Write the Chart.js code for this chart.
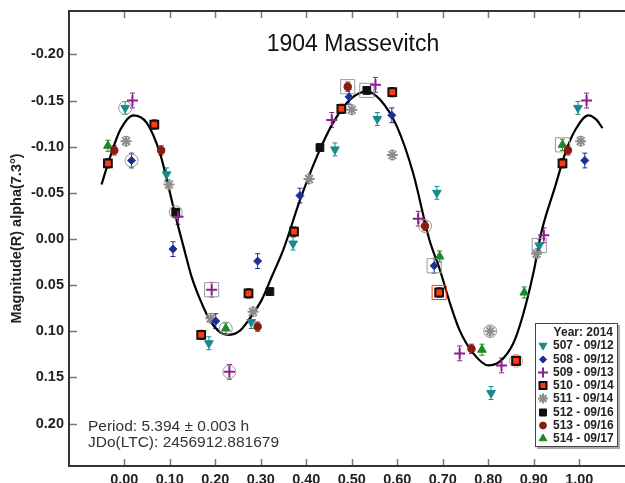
<!DOCTYPE html>
<html>
<head>
<meta charset="utf-8">
<script src="https://cdn.jsdelivr.net/npm/chart.js@4.4.1/dist/chart.umd.min.js"></script>
<style>
    html, body { margin: 0; padding: 0; background: #fff; }
    #wrap { position: relative; width: 625px; height: 483px; font-family: "Liberation Sans", Arial, sans-serif; }
    #chart { position: absolute; left: 0; top: 0; }
    .title { position: absolute; left: 233px; top: 30px; width: 240px; text-align: center; font-size: 23px; color: #111; }
    .note { position: absolute; left: 88px; top: 418px; font-size: 15.5px; line-height: 15.8px; color: #333; }
    .legend { position: absolute; left: 535px; top: 323px; width: 83px; height: 124px; border: 1px solid #444;
              background: #fff; box-shadow: 2px 2px 0 #aaa; padding-top: 2px; box-sizing: border-box; }
    .legend .row { height: 13.3px; line-height: 13.3px; font-size: 12px; font-weight: bold; color: #222; white-space: nowrap; position: relative; }
    .legend .head { text-align: right; padding-right: 4px; }
    .legend canvas { position: absolute; left: 0px; top: 0px; }
    .legend .txt { position: absolute; left: 17px; }
</style>
</head>
<body>
<div id="wrap">
    <canvas id="chart" width="625" height="483"></canvas>
    <div class="title">1904 Massevitch</div>
    <div class="note">Period: 5.394 ± 0.003 h<br>JDo(LTC): 2456912.881679</div>
    <div class="legend" id="legend"></div>
</div>
<script>
// ---- data ----
const xTicks = [0.0, 0.1, 0.2, 0.3, 0.4, 0.5, 0.6, 0.7, 0.8, 0.9, 1.0];
const yTicks = [-0.20, -0.15, -0.10, -0.05, 0.00, 0.05, 0.10, 0.15, 0.20];

const legendTitle = 'Year: 2014';
const seriesNames = ['507 - 09/12', '508 - 09/12', '509 - 09/13', '510 - 09/14',
                     '511 - 09/14', '512 - 09/16', '513 - 09/16', '514 - 09/17'];

const phase507 = [0.002, 0.093, 0.186, 0.279, 0.371, 0.463, 0.556, 0.687, 0.806, 0.912, 0.997];
const mag507   = [-0.142, -0.070, 0.113, 0.090, 0.005, -0.097, -0.130, -0.050, 0.167, 0.007, -0.142];
const phase508 = [0.016, 0.107, 0.201, 0.293, 0.386, 0.494, 0.588, 0.681, 1.012];
const mag508   = [-0.085, 0.011, 0.089, 0.024, -0.047, -0.154, -0.134, 0.029, -0.085];
const phase509 = [0.018, 0.118, 0.192, 0.231, 0.456, 0.552, 0.646, 0.737, 0.829, 0.922, 1.016];
const mag509   = [-0.150, -0.024, 0.055, 0.144, -0.129, -0.167, -0.022, 0.124, 0.137, -0.004, -0.150];
const phase510 = [-0.036, 0.066, 0.169, 0.273, 0.373, 0.477, 0.589, 0.692, 0.861, 0.963];
const mag510   = [-0.082, -0.124, 0.104, 0.059, -0.008, -0.141, -0.159, 0.058, 0.132, -0.082];
const phase511 = [0.004, 0.098, 0.190, 0.283, 0.406, 0.500, 0.589, 0.804, 0.906, 1.003];
const mag511   = [-0.106, -0.059, 0.086, 0.079, -0.065, -0.140, -0.091, 0.100, 0.016, -0.106];
const phase512 = [0.113, 0.320, 0.430, 0.533];
const mag512   = [-0.029, 0.057, -0.099, -0.161];
const phase513 = [-0.022, 0.081, 0.293, 0.491, 0.661, 0.763, 0.975];
const mag513   = [-0.096, -0.096, 0.095, -0.165, -0.014, 0.119, -0.096];
const phase514 = [-0.036, 0.223, 0.693, 0.786, 0.879, 0.963];
const mag514   = [-0.101, 0.097, 0.019, 0.120, 0.058, -0.102];

// error bar half-length per session
const magErr = [0.007, 0.008, 0.008, 0.005, 0.005, 0.004, 0.005, 0.006];

// fourier fit
const fitPhase = [-0.050, -0.031, -0.009, 0.020, 0.049, 0.079, 0.096, 0.111, 0.130, 0.148, 0.167, 0.188,
                  0.210, 0.227, 0.255, 0.280, 0.302, 0.324, 0.350, 0.386, 0.423, 0.459, 0.496, 0.533,
                  0.562, 0.599, 0.635, 0.670, 0.694, 0.716, 0.737, 0.767, 0.800, 0.825, 0.855, 0.877,
                  0.899, 0.917, 0.947, 0.969, 0.991, 1.020, 1.038, 1.051];
const fitMag   = [-0.059, -0.089, -0.118, -0.134, -0.126, -0.092, -0.059, -0.028, 0.008, 0.041, 0.066, 0.088,
                  0.101, 0.104, 0.099, 0.083, 0.066, 0.041, 0.011, -0.042, -0.089, -0.126, -0.151, -0.160,
                  -0.151, -0.122, -0.071, 0.000, 0.034, 0.070, 0.099, 0.124, 0.137, 0.133, 0.113, 0.081,
                  0.037, -0.008, -0.057, -0.093, -0.118, -0.134, -0.129, -0.120];

// points flagged with a ring or a box in the original plot
const circledPhase = [0.002, 0.016, 0.113, 0.231, 0.223, 0.661, 0.804, 0.861];
const circledMag   = [-0.142, -0.085, -0.029, 0.144, 0.097, -0.014, 0.100, 0.132];
const boxedPhase   = [0.192, 0.491, 0.533, 0.681, 0.692, 0.912, 0.963];
const boxedMag     = [0.055, -0.165, -0.161, 0.029, 0.058, 0.007, -0.102];

// ---- styles ----
const phases = [phase507, phase508, phase509, phase510, phase511, phase512, phase513, phase514];
const mags = [mag507, mag508, mag509, mag510, mag511, mag512, mag513, mag514];
const markers = [
    { style: 'triangle', rot: 180, r: 5, fill: '#178a8c', line: '#178a8c', w: 1 },
    { style: 'rectRot', rot: 0, r: 4, fill: '#1c2f96', line: '#1c2f96', w: 1 },
    { style: 'cross', rot: 0, r: 5.5, fill: '#8e1f8e', line: '#8e1f8e', w: 2 },
    { style: 'rect', rot: 0, r: 5.5, fill: '#ff3a12', line: '#111', w: 2 },
    { style: 'star', rot: 0, r: 5.5, fill: '#8c8c8c', line: '#8c8c8c', w: 2 },
    { style: 'rect', rot: 0, r: 5.5, fill: '#111', line: '#111', w: 1 },
    { style: 'circle', rot: 0, r: 3.8, fill: '#8b1a10', line: '#8b1a10', w: 1 },
    { style: 'triangle', rot: 0, r: 5, fill: '#1b8a2b', line: '#1b8a2b', w: 1 }
];
const circledColors = ['#999', '#999', '#999', '#999', '#999', '#999', '#999', '#f08a7a'];
const boxedColors = ['#999', '#999', '#999', '#999', '#ff3a12', '#999', '#999'];

const toPoints = (xs, ys) => xs.map((x, i) => ({ x: x, y: ys[i] }));

const datasets = [];
phases.forEach((ph, i) => {
    const m = markers[i];
    datasets.push({
        label: seriesNames[i],
        data: toPoints(ph, mags[i]),
        pointStyle: m.style,
        pointRotation: m.rot,
        pointRadius: m.r,
        pointBackgroundColor: m.fill,
        pointBorderColor: m.line,
        pointBorderWidth: m.w,
        showLine: false
    });
});
datasets.push({
    label: 'circled',
    data: toPoints(circledPhase, circledMag),
    pointStyle: 'circle',
    pointRadius: 6.5,
    pointBackgroundColor: 'rgba(0,0,0,0)',
    pointBorderColor: circledColors,
    pointBorderWidth: 1,
    showLine: false
});
datasets.push({
    label: 'boxed',
    data: toPoints(boxedPhase, boxedMag),
    pointStyle: 'rect',
    pointRadius: 10,
    pointBackgroundColor: 'rgba(0,0,0,0)',
    pointBorderColor: boxedColors,
    pointBorderWidth: 1,
    showLine: false
});
datasets.push({
    label: 'fit',
    type: 'line',
    data: toPoints(fitPhase, fitMag),
    borderColor: '#000',
    borderWidth: 2.2,
    pointRadius: 0,
    cubicInterpolationMode: 'monotone',
    fill: false
});

// frame with inward ticks + error bars
const framePlugin = {
    id: 'frame',
    beforeDatasetsDraw(chart) {
        const { ctx, scales: { x, y } } = chart;
        ctx.save();
        ctx.lineWidth = 1;
        for (let i = 0; i < phases.length; i++) {
            ctx.strokeStyle = markers[i].fill === '#ff3a12' ? '#111' : markers[i].fill;
            phases[i].forEach((ph, j) => {
                const px = x.getPixelForValue(ph);
                const y1 = y.getPixelForValue(mags[i][j] - magErr[i]);
                const y2 = y.getPixelForValue(mags[i][j] + magErr[i]);
                ctx.beginPath();
                ctx.moveTo(px, y1); ctx.lineTo(px, y2);
                ctx.moveTo(px - 2.5, y1); ctx.lineTo(px + 2.5, y1);
                ctx.moveTo(px - 2.5, y2); ctx.lineTo(px + 2.5, y2);
                ctx.stroke();
            });
        }
        ctx.restore();
    },
    afterDraw(chart) {
        const { ctx, chartArea: a, scales: { x, y } } = chart;
        ctx.save();
        ctx.strokeStyle = '#777';
        ctx.lineWidth = 1.5;
        ctx.beginPath();
        xTicks.forEach(v => {
            const px = Math.round(x.getPixelForValue(v)) + 0.5;
            ctx.moveTo(px, a.top); ctx.lineTo(px, a.top + 7);
            ctx.moveTo(px, a.bottom); ctx.lineTo(px, a.bottom - 7);
        });
        yTicks.forEach(v => {
            const py = Math.round(y.getPixelForValue(v)) + 0.5;
            ctx.moveTo(a.left, py); ctx.lineTo(a.left + 8, py);
        });
        ctx.stroke();
        ctx.strokeStyle = '#333';
        ctx.lineWidth = 2;
        ctx.beginPath();
        ctx.moveTo(a.right, a.top);
        ctx.lineTo(a.left, a.top);
        ctx.lineTo(a.left, a.bottom);
        ctx.lineTo(a.right, a.bottom);
        ctx.stroke();
        ctx.restore();
    }
};

const tickFont = { family: '"Liberation Sans", Arial, sans-serif', size: 14.5, weight: 'bold' };

new Chart(document.getElementById('chart'), {
    type: 'scatter',
    data: { datasets: datasets },
    options: {
        responsive: false,
        animation: false,
        events: [],
        layout: { autoPadding: false, padding: { top: 11, left: 0, right: 0, bottom: 0 } },
        plugins: { legend: { display: false }, tooltip: { enabled: false } },
        scales: {
            x: {
                type: 'linear',
                min: -0.1215,
                max: 1.1004,
                afterBuildTicks: s => { s.ticks = xTicks.map(v => ({ value: v })); },
                afterFit: s => { s.height = 17; s.paddingLeft = 0; s.paddingRight = 0; },
                grid: { display: false, drawTicks: false },
                border: { display: false },
                ticks: { padding: 5, color: '#222', font: tickFont, maxRotation: 0, callback: v => v.toFixed(2) }
            },
            y: {
                type: 'linear',
                reverse: true,
                min: -0.247,
                max: 0.246,
                afterBuildTicks: s => { s.ticks = yTicks.map(v => ({ value: v })); },
                afterFit: s => { s.width = 69; s.paddingTop = 0; s.paddingBottom = 0; },
                grid: { display: false, drawTicks: false },
                border: { display: false },
                ticks: { padding: 5, color: '#222', font: tickFont, callback: v => v.toFixed(2) },
                title: {
                    display: true,
                    text: 'Magnitude(R) alpha(7.3°)',
                    color: '#222',
                    font: { family: '"Liberation Sans", Arial, sans-serif', size: 14.5, weight: 'bold' },
                    padding: { top: 8, bottom: 0 }
                }
            }
        }
    },
    plugins: [framePlugin]
});

// legend box
const legendEl = document.getElementById('legend');
const head = document.createElement('div');
head.className = 'row head';
head.textContent = legendTitle;
legendEl.appendChild(head);
seriesNames.forEach((name, i) => {
    const m = markers[i];
    const row = document.createElement('div');
    row.className = 'row';
    const c = document.createElement('canvas');
    c.width = 14; c.height = 13;
    const g = c.getContext('2d');
    g.fillStyle = m.fill;
    g.strokeStyle = m.line;
    g.lineWidth = m.w;
    Chart.helpers.drawPoint(g, { pointStyle: m.style, rotation: m.rot, radius: m.r * 0.9, borderWidth: m.w }, 7, 6.5);
    const t = document.createElement('span');
    t.className = 'txt';
    t.textContent = name;
    row.appendChild(c);
    row.appendChild(t);
    legendEl.appendChild(row);
});
</script>
</body>
</html>
